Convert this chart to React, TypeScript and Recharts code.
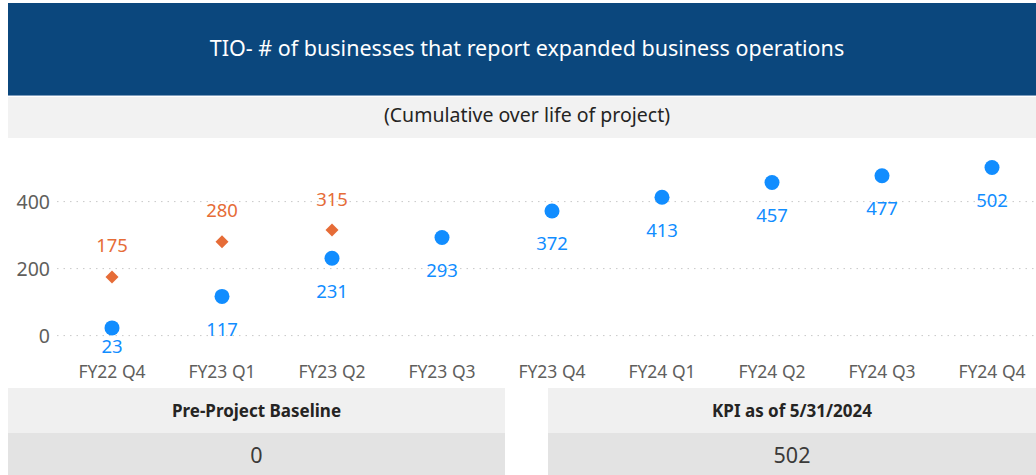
import React from "react";
import { ComposedChart, Scatter, XAxis, YAxis, ReferenceLine } from "recharts";

const categories = ["FY22 Q4", "FY23 Q1", "FY23 Q2", "FY23 Q3", "FY23 Q4", "FY24 Q1", "FY24 Q2", "FY24 Q3", "FY24 Q4"];
const actualValues = [23, 117, 231, 293, 372, 413, 457, 477, 502];
const targetValues: (number | null)[] = [175, 280, 315, null, null, null, null, null, null];
const yTicks = [0, 200, 400];
const yDomain = [-40, 560];

const titleText = "TIO- # of businesses that report expanded business operations";
const subtitleText = "(Cumulative over life of project)";
const baselineLabel = "Pre-Project Baseline";
const baselineValue = "0";
const kpiLabel = "KPI as of 5/31/2024";
const kpiValue = "502";

const rows = categories.map((q, i) => ({ q, actual: actualValues[i], target: targetValues[i] }));

const BLUE = "#118DFF";
const ORANGE = "#E66C37";
const FONT = "'Segoe UI', 'Noto Sans', 'Open Sans', sans-serif";

const MARGIN_TOP = 10;
const PLOT_H = 201;
const PLOT_BOTTOM = MARGIN_TOP + PLOT_H;
const LABEL_SIZE = 18.5;

const BlueDot = (props: any) => {
  const { cx, cy, payload } = props;
  if (payload == null || payload.actual == null || cx == null || cy == null) return null;
  return (
    <g>
      <circle cx={cx} cy={cy} r={7.5} fill={BLUE} />
      <text x={cx} y={Math.min(cy + 32, PLOT_BOTTOM - 4)} textAnchor="middle" dominantBaseline="central" fill={BLUE} fontSize={LABEL_SIZE} fontFamily={FONT}>
        {payload.actual}
      </text>
    </g>
  );
};

const OrangeDiamond = (props: any) => {
  const { cx, cy, payload } = props;
  if (payload == null || payload.target == null || cx == null || cy == null) return null;
  const h = 6.5;
  return (
    <g>
      <polygon points={`${cx},${cy - h} ${cx + h},${cy} ${cx},${cy + h} ${cx - h},${cy}`} fill={ORANGE} />
      <text x={cx} y={cy - 32} textAnchor="middle" dominantBaseline="central" fill={ORANGE} fontSize={LABEL_SIZE} fontFamily={FONT}>
        {payload.target}
      </text>
    </g>
  );
};

export default function App() {
  return (
    <div style={{ position: "absolute", left: 8, top: 3, width: 1028, height: 472, overflow: "hidden", background: "#fff", fontFamily: FONT }}>
      <div style={{ position: "absolute", left: 0, top: 0, width: 1028, height: 93, background: "#0B477D", borderBottom: "1px solid #7E9DBD", color: "#fff", fontSize: 21.5, display: "flex", alignItems: "center", justifyContent: "center", paddingLeft: 10, paddingBottom: 4, boxSizing: "border-box" }}>
        {titleText}
      </div>
      <div style={{ position: "absolute", left: 0, top: 94, width: 1028, height: 41, background: "#F2F2F2", color: "#252423", fontSize: 19.5, display: "flex", alignItems: "center", justifyContent: "center", paddingLeft: 10, paddingBottom: 6, boxSizing: "border-box" }}>
        {subtitleText}
      </div>
      <div style={{ position: "absolute", left: 0, top: 135 }}>
        <ComposedChart width={1039} height={250} data={rows} margin={{ top: MARGIN_TOP, right: 0, bottom: 0, left: 0 }}>
          {yTicks.map((t) => (
            <ReferenceLine key={t} y={t} stroke="#C8C8C8" strokeDasharray="1.5 5" />
          ))}
          <XAxis dataKey="q" type="category" height={39} padding={{ left: 55, right: 55 }} tickLine={false} axisLine={false} tickSize={0} tickMargin={17} tick={{ fill: "#605E5C", fontSize: 17.5, fontFamily: FONT }} interval={0} />
          <YAxis type="number" domain={yDomain} ticks={yTicks} width={49} tickLine={false} axisLine={false} tickSize={0} tickMargin={7} tick={{ fill: "#605E5C", fontSize: 19.5, fontFamily: FONT }} />
          <Scatter dataKey="target" shape={OrangeDiamond} isAnimationActive={false} />
          <Scatter dataKey="actual" shape={BlueDot} isAnimationActive={false} />
        </ComposedChart>
      </div>
      <div style={{ position: "absolute", left: 0, top: 385, width: 497, height: 45, background: "#F0F0F0", color: "#252423", fontSize: 17, fontWeight: 700, display: "flex", alignItems: "center", justifyContent: "center" }}>
        {baselineLabel}
      </div>
      <div style={{ position: "absolute", left: 0, top: 430, width: 497, height: 42, background: "#E3E3E3", color: "#3B3A39", fontSize: 21.5, display: "flex", alignItems: "center", justifyContent: "center" }}>
        {baselineValue}
      </div>
      <div style={{ position: "absolute", left: 540, top: 385, width: 488, height: 45, background: "#F0F0F0", color: "#252423", fontSize: 17, fontWeight: 700, display: "flex", alignItems: "center", justifyContent: "center" }}>
        {kpiLabel}
      </div>
      <div style={{ position: "absolute", left: 540, top: 430, width: 488, height: 42, background: "#E3E3E3", color: "#3B3A39", fontSize: 21.5, display: "flex", alignItems: "center", justifyContent: "center" }}>
        {kpiValue}
      </div>
    </div>
  );
}
